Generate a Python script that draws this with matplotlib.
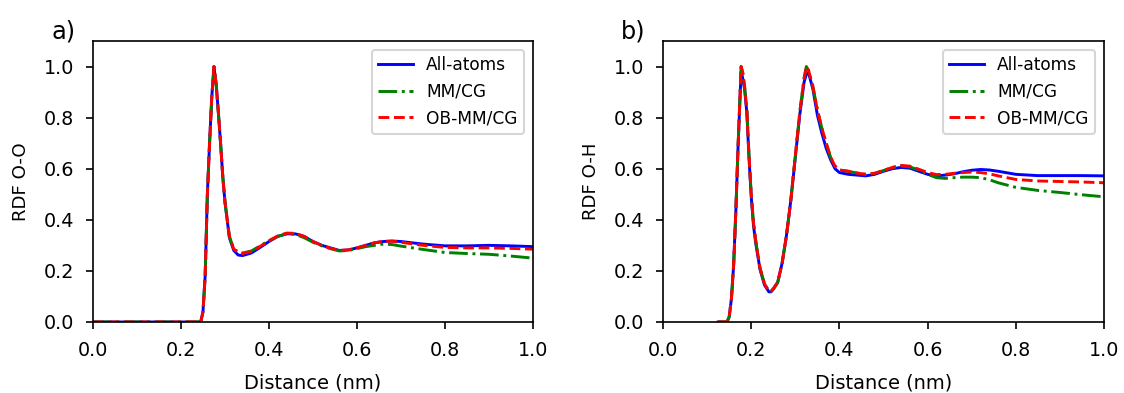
"""
Normalized radial distribution functions O-O and O-H for three models
"""
import numpy as np
import matplotlib
matplotlib.use("Agg")
import matplotlib.pyplot as plt

# Panel a) RDF O-O
dist_oo = [0.0, 0.1, 0.2, 0.24, 0.245, 0.25, 0.255, 0.26, 0.265, 0.27, 0.275, 0.28, 0.285, 0.29,
           0.295, 0.30, 0.31, 0.32, 0.33, 0.34, 0.36, 0.38, 0.40, 0.42, 0.44, 0.46, 0.48, 0.50,
           0.52, 0.54, 0.56, 0.58, 0.60, 0.62, 0.64, 0.66, 0.68, 0.70, 0.75, 0.80, 0.85, 0.90,
           0.95, 1.00]
oo_allatoms = [0, 0, 0, 0, 0.0, 0.04, 0.18, 0.50, 0.70, 0.88, 1.0, 0.93, 0.82, 0.70,
               0.57, 0.47, 0.33, 0.28, 0.262, 0.26, 0.27, 0.292, 0.315, 0.335, 0.345, 0.345, 0.335, 0.315,
               0.30, 0.29, 0.28, 0.282, 0.29, 0.30, 0.31, 0.315, 0.317, 0.315, 0.305, 0.298, 0.298, 0.30,
               0.298, 0.295]
oo_mmcg = [0, 0, 0, 0, 0.0, 0.04, 0.18, 0.50, 0.70, 0.88, 1.0, 0.93, 0.82, 0.70,
           0.57, 0.47, 0.335, 0.285, 0.275, 0.27, 0.278, 0.298, 0.318, 0.335, 0.345, 0.343, 0.33, 0.312,
           0.298, 0.287, 0.278, 0.28, 0.287, 0.295, 0.30, 0.305, 0.303, 0.297, 0.284, 0.272, 0.268, 0.265,
           0.258, 0.25]
oo_obmmcg = [0, 0, 0, 0, 0.0, 0.04, 0.18, 0.50, 0.70, 0.88, 1.0, 0.93, 0.82, 0.70,
             0.57, 0.47, 0.335, 0.285, 0.272, 0.268, 0.276, 0.296, 0.318, 0.337, 0.348, 0.347, 0.335, 0.315,
             0.30, 0.288, 0.28, 0.282, 0.29, 0.30, 0.31, 0.316, 0.316, 0.312, 0.30, 0.292, 0.29, 0.29,
             0.288, 0.285]

# Panel b) RDF O-H
dist_oh = [0.125, 0.145, 0.15, 0.155, 0.16, 0.165, 0.17, 0.177, 0.18, 0.185, 0.19, 0.195, 0.20,
           0.205, 0.21, 0.22, 0.23, 0.24, 0.245, 0.25, 0.26, 0.27, 0.28, 0.29, 0.30, 0.31, 0.32,
           0.325, 0.33, 0.34, 0.35, 0.36, 0.37, 0.38, 0.39, 0.40, 0.42, 0.44, 0.46, 0.48, 0.50,
           0.52, 0.54, 0.56, 0.58, 0.60, 0.62, 0.64, 0.66, 0.68, 0.70, 0.72, 0.74, 0.76, 0.80,
           0.85, 0.90, 0.95, 1.00]
oh_allatoms = [0, 0, 0.02, 0.09, 0.22, 0.43, 0.68, 0.98, 0.96, 0.91, 0.82, 0.64, 0.49,
               0.38, 0.31, 0.205, 0.145, 0.118, 0.118, 0.128, 0.155, 0.23, 0.34, 0.48, 0.645, 0.81, 0.94,
               0.97, 0.975, 0.91, 0.81, 0.74, 0.68, 0.635, 0.60, 0.585, 0.578, 0.575, 0.572, 0.578, 0.59,
               0.60, 0.605, 0.602, 0.59, 0.578, 0.572, 0.575, 0.58, 0.588, 0.594, 0.597, 0.595, 0.59, 0.578,
               0.573, 0.573, 0.573, 0.572]
oh_mmcg = [0, 0, 0.02, 0.09, 0.22, 0.43, 0.68, 1.0, 0.985, 0.92, 0.83, 0.65, 0.50,
           0.39, 0.32, 0.21, 0.15, 0.12, 0.12, 0.13, 0.155, 0.23, 0.34, 0.48, 0.65, 0.82, 0.955,
           1.0, 0.985, 0.92, 0.83, 0.76, 0.70, 0.645, 0.61, 0.595, 0.59, 0.583, 0.578, 0.582, 0.593,
           0.605, 0.61, 0.607, 0.595, 0.578, 0.565, 0.562, 0.565, 0.567, 0.567, 0.565, 0.557, 0.545, 0.527,
           0.515, 0.507, 0.498, 0.49]
oh_obmmcg = [0, 0, 0.02, 0.09, 0.22, 0.43, 0.68, 1.0, 0.985, 0.92, 0.83, 0.65, 0.50,
             0.39, 0.32, 0.21, 0.15, 0.12, 0.12, 0.13, 0.155, 0.23, 0.34, 0.48, 0.65, 0.82, 0.955,
             1.0, 0.985, 0.92, 0.83, 0.76, 0.70, 0.645, 0.61, 0.595, 0.59, 0.583, 0.578, 0.582, 0.593,
             0.605, 0.613, 0.61, 0.598, 0.585, 0.577, 0.578, 0.582, 0.585, 0.587, 0.585, 0.58, 0.572, 0.558,
             0.552, 0.55, 0.548, 0.545]

fig = plt.figure(figsize=(1124 / 150, 393 / 150), dpi=150)
ax1 = fig.add_axes([0.0827, 0.1807, 0.3915, 0.715])
ax2 = fig.add_axes([0.5899, 0.1807, 0.3923, 0.715])

panels = [
    (ax1, dist_oo, oo_allatoms, oo_mmcg, oo_obmmcg, "RDF O-O", "a)"),
    (ax2, dist_oh, oh_allatoms, oh_mmcg, oh_obmmcg, "RDF O-H", "b)"),
]

for ax, x, y_all, y_mm, y_ob, ylab, tag in panels:
    ax.plot(x, y_all, color="blue", linestyle="-", lw=1.4, label="All-atoms")
    ax.plot(x, y_mm, color="green", linestyle="-.", lw=1.4, label="MM/CG")
    ax.plot(x, y_ob, color="red", linestyle="--", lw=1.4, label="OB-MM/CG")
    ax.set_xlim(0, 1.0)
    ax.set_ylim(0, 1.1)
    ax.set_xticks(np.arange(0, 1.01, 0.2))
    ax.set_yticks(np.arange(0, 1.01, 0.2))
    ax.tick_params(labelsize=9.2, pad=5.5)
    ax.set_xlabel("Distance (nm)", fontsize=9.3, labelpad=6.5)
    ax.set_ylabel(ylab, fontsize=8.7, labelpad=6.5)
    ax.legend(loc="upper right", fontsize=8.2)
    ax.text(-0.095, 0.99, tag, transform=ax.transAxes, ha="left", va="bottom", fontsize=11.5)

plt.savefig("out.png", dpi=150)
